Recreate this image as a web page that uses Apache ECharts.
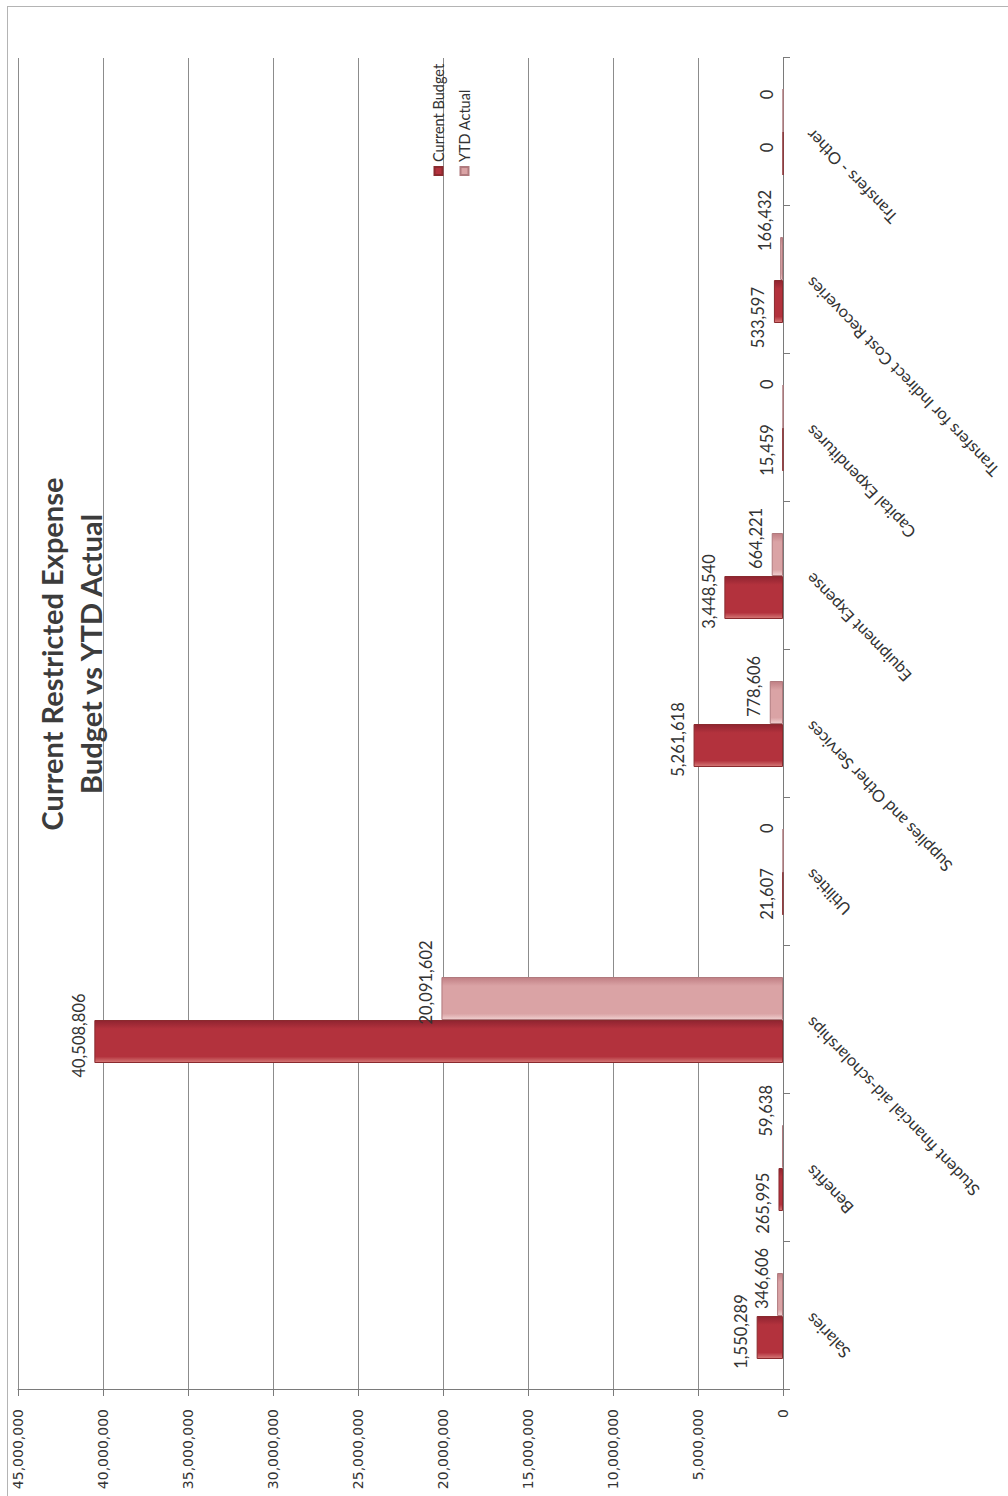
<!DOCTYPE html>
<html>
<head>
<meta charset="utf-8">
<script src="https://cdn.jsdelivr.net/npm/echarts@6/dist/echarts.min.js"></script>
<style>
  html, body { margin: 0; padding: 0; background: #ffffff; overflow: hidden; }
  #page { position: relative; width: 1008px; height: 1496px; overflow: hidden; background: #fff; }
  #frame { position: absolute; left: 7px; top: 6px; width: 1020px; height: 1510px;
           border-left: 1.5px solid #b4b4b4; border-top: 1.5px solid #b4b4b4; box-sizing: border-box; }
  #chart { position: absolute; left: 0; top: 0; width: 1496px; height: 1008px;
           transform-origin: 0 0; transform: translateY(1496px) rotate(-90deg); }
</style>
</head>
<body>
<div id="page">
  <div id="frame"></div>
  <div id="chart"></div>
</div>
<script>
const categories = [
  'Salaries',
  'Benefits',
  'Student financial aid-scholarships',
  'Utilities',
  'Supplies and Other Services',
  'Equipment Expense',
  'Capital Expenditures',
  'Transfers for Indirect Cost Recoveries',
  'Transfers - Other'
];
const currentBudget = [1550289, 265995, 40508806, 21607, 5261618, 3448540, 15459, 533597, 0];
const ytdActual = [346606, 59638, 20091602, 0, 778606, 664221, 0, 166432, 0];
const valueTicks = [0, 5000000, 10000000, 15000000, 20000000, 25000000, 30000000, 35000000, 40000000, 45000000];

const fmt = v => Number(v).toLocaleString('en-US');

const LABEL_FONT = '16.5px Lato';
const LABEL_SHIFT = [6, 16];        // systematic nudge of each series' value labels
const NEAR_VALUE = 1200000;         // labels this close in value sit at the same height
const MIN_GAP = 36;                 // minimum gap between paired labels at the same height

const measureCtx = document.createElement('canvas').getContext('2d');
function textWidth(t) { measureCtx.font = LABEL_FONT; return measureCtx.measureText(t).width; }

// Nudge value labels like the original, spreading apart pairs that would collide
function labelNudge(params) {
  const s = params.seriesIndex, i = params.dataIndex;
  const series = [currentBudget, ytdActual];
  const own = series[s][i], other = series[1 - s][i];
  let dx = LABEL_SHIFT[s];
  if (Math.abs(own - other) <= NEAR_VALUE) {
    const bw = params.rect.width;
    const ownC = params.rect.x + bw / 2 + LABEL_SHIFT[s];
    const otherC = params.rect.x + bw / 2 + (s === 0 ? bw : -bw) + LABEL_SHIFT[1 - s];
    const wOwn = textWidth(fmt(own)), wOther = textWidth(fmt(other));
    const L = s === 0 ? { c: ownC, w: wOwn } : { c: otherC, w: wOther };
    const R = s === 0 ? { c: otherC, w: wOther } : { c: ownC, w: wOwn };
    const gap = (R.c - R.w / 2) - (L.c + L.w / 2);
    if (gap < MIN_GAP) {
      const push = (MIN_GAP - gap) / 2;
      dx += s === 0 ? -push : push;
    }
  }
  return { dx: dx };
}

function barGrad(edge, base, dark) {
  return new echarts.graphic.LinearGradient(0, 0, 1, 0, [
    { offset: 0, color: edge },
    { offset: 0.14, color: base },
    { offset: 0.8, color: base },
    { offset: 1, color: dark }
  ]);
}

const chart = echarts.init(document.getElementById('chart'), null, { renderer: 'svg', width: 1496, height: 1008 });

const valueLabel = {
  show: true,
  position: 'top',
  distance: 7,
  fontFamily: 'Lato',
  fontSize: 16.5,
  color: '#333',
  formatter: p => fmt(p.value)
};

const option = {
  backgroundColor: 'transparent',
  animation: false,
  title: {
    text: 'Current Restricted Expense\nBudget vs YTD Actual',
    left: 837,
    top: 27,
    textAlign: 'center',
    textStyle: {
      fontFamily: 'Lato',
      fontWeight: 'bold',
      fontSize: 29,
      lineHeight: 39,
      color: '#3c3c3c'
    }
  },
  legend: {
    orient: 'vertical',
    left: 1315,
    top: 426,
    itemWidth: 8,
    itemHeight: 8,
    itemGap: 11,
    icon: 'rect',
    textStyle: { fontFamily: 'Lato', fontSize: 14.5, color: '#333' },
    data: ['Current Budget', 'YTD Actual']
  },
  grid: { left: 106, right: 58, top: 18, bottom: 225, containLabel: false },
  xAxis: {
    type: 'category',
    data: categories,
    axisLine: { show: true, lineStyle: { color: '#7a7a7a', width: 1 } },
    axisTick: { show: true, alignWithLabel: false, length: 7, lineStyle: { color: '#7a7a7a' } },
    axisLabel: {
      interval: 0,
      rotate: 44,
      margin: 26,
      fontFamily: 'Lato',
      fontSize: 16.5,
      color: '#333'
    }
  },
  yAxis: {
    type: 'value',
    min: 0,
    max: 45000000,
    interval: 5000000,
    axisLine: { show: true, lineStyle: { color: '#7a7a7a', width: 1 } },
    axisTick: { show: true, length: 6, lineStyle: { color: '#7a7a7a' } },
    splitLine: { show: true, lineStyle: { color: '#8c8c8c', width: 1 } },
    axisLabel: {
      margin: 19,
      fontFamily: 'DejaVu Sans',
      fontSize: 14,
      color: '#333',
      formatter: v => valueTicks.indexOf(v) >= 0 ? fmt(v) : ''
    }
  },
  series: [
    {
      name: 'Current Budget',
      type: 'bar',
      data: currentBudget,
      barWidth: 43,
      barGap: '0%',
      itemStyle: {
        color: barGrad('#d67a78', '#b3323d', '#8f2430'),
        borderColor: '#8a2a2e',
        borderWidth: 1
      },
      label: valueLabel,
      labelLayout: labelNudge
    },
    {
      name: 'YTD Actual',
      type: 'bar',
      data: ytdActual,
      barWidth: 43,
      barGap: '0%',
      itemStyle: {
        color: barGrad('#f0cfcf', '#daa3a5', '#c07f84'),
        borderColor: '#b07a7e',
        borderWidth: 1
      },
      label: valueLabel,
      labelLayout: labelNudge
    }
  ]
};
chart.setOption(option);
</script>
</body>
</html>
